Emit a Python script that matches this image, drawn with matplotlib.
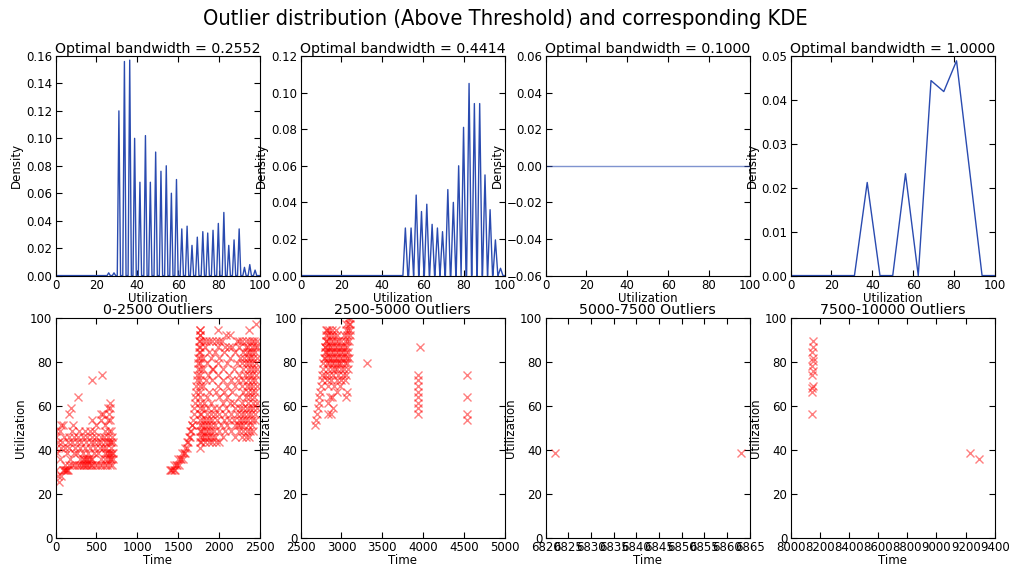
import numpy as np
import matplotlib
matplotlib.use('Agg')
import matplotlib.pyplot as plt

# ---- KDE panels (top row) ----
bandwidths = [0.2552, 0.4414, 0.1000, 1.0000]

# peaks of the narrow KDE spikes (x = utilization, y = density)
kde1_peak_x = [26.0, 28.6, 31.0, 33.7, 36.3, 38.7, 41.3, 44.0, 46.4, 49.0, 51.6, 54.2, 56.7, 59.2, 61.8,
               64.4, 66.8, 69.4, 72.1, 74.5, 77.1, 79.7, 82.4, 84.8, 87.4, 89.9, 92.5, 95.1, 97.7]
kde1_peak_y = [0.002, 0.002, 0.120, 0.156, 0.157, 0.100, 0.068, 0.102, 0.068, 0.090, 0.076, 0.080, 0.060,
               0.070, 0.034, 0.036, 0.022, 0.028, 0.032, 0.031, 0.033, 0.038, 0.046, 0.022, 0.026, 0.034,
               0.006, 0.008, 0.004]

kde2_peak_x = [51.3, 54.1, 56.6, 59.2, 61.8, 64.4, 67.0, 69.5, 72.1, 74.8, 77.4, 79.8, 82.5, 85.1, 87.7,
               90.3, 92.8, 95.4, 97.9]
kde2_peak_y = [0.026, 0.026, 0.044, 0.035, 0.039, 0.028, 0.026, 0.024, 0.047, 0.040, 0.060, 0.081, 0.105,
               0.094, 0.094, 0.055, 0.036, 0.0195, 0.004]

kde3_x = [0, 100]
kde3_y = [0.0, 0.0]

kde4_x = [0, 6.25, 12.5, 18.75, 25, 31.25, 37.5, 43.75, 50, 56.25, 62.5, 68.75, 75, 81.25, 87.5, 93.75, 100]
kde4_y = [0, 0, 0, 0, 0, 0, 0.0212, 0, 0, 0.0232, 0, 0.0444, 0.0419, 0.0489, 0.0245, 0, 0]

kde_ylims = [(0, 0.16), (0, 0.12), (-0.06, 0.06), (0, 0.05)]
kde_yticks = [np.arange(0, 0.161, 0.02), np.arange(0, 0.121, 0.02),
              np.arange(-0.06, 0.061, 0.02), np.arange(0, 0.051, 0.01)]

# ---- outlier scatter panels (bottom row) ----
titles = ['0-2500 Outliers', '2500-5000 Outliers', '5000-7500 Outliers', '7500-10000 Outliers']

# panel 1: utilization levels and the times at which each level shows an outlier
p1_levels = [25.6, 28.2, 30.8, 33.3, 35.9, 38.5, 41.0, 43.6, 46.2, 48.7, 51.3, 53.8, 56.4, 59.0, 61.5,
             64.1, 71.8, 74.4]
p1_times = [
    [40], [25, 70], [10, 90, 105, 115, 125, 135, 150],
    [120, 160, 200, 230, 260, 290, 310, 330, 350, 370, 390, 410, 430, 450, 480, 510, 540, 570, 600, 630, 660, 690],
    [50, 180, 300, 330, 350, 370, 390, 410, 430, 450, 550, 610, 640, 660, 680, 700],
    [20, 140, 220, 260, 330, 400, 470, 520, 600, 630, 650, 670, 690, 700],
    [0, 60, 110, 170, 240, 300, 360, 420, 480, 540, 580, 620, 680],
    [30, 80, 150, 200, 260, 310, 370, 430, 470, 520, 560, 600, 640, 660, 680, 700],
    [10, 100, 160, 230, 280, 340, 390, 440, 500, 550, 590, 640, 690],
    [0, 50, 200, 290, 360, 420, 470, 610, 650, 680],
    [70, 90, 210, 500, 600], [440, 560, 640, 660], [170, 560, 580, 650], [190, 640, 670],
    [660], [280], [450], [570],
]

p1b_levels = [30.8, 33.3, 35.9, 38.5, 41.0, 43.6, 46.2, 48.7, 51.3, 53.8, 56.4, 59.0, 61.5, 64.1, 66.7,
              69.2, 71.8, 74.4, 76.9, 79.5, 82.1, 84.6, 87.2, 89.7, 92.3, 94.9, 97.4]
p1b_times = [
    [1400, 1415, 1430, 1445, 1460],
    [1450, 1470, 1490, 1505],
    [1500, 1520, 1540, 1555],
    [1550, 1570, 1585],
    [1590, 1605, 1765],
    [1610, 1625, 1765, 1780, 1830, 1880, 1920, 1960, 2000],
    [1630, 1645, 1765, 1790, 1820, 1850, 1880, 1910, 1950, 2050, 2200, 2280, 2330, 2370],
    [1650, 1660, 1765, 1780, 1810, 1840, 1870, 1900, 1940, 2000, 2080, 2150, 2240, 2290, 2340, 2380, 2420],
    [1665, 1675, 1765, 1790, 1830, 1860, 1900, 1950, 2020, 2100, 2200, 2230, 2260, 2300, 2350, 2400],
    [1680, 1765, 1800, 1840, 1880, 1920, 1980, 2060, 2120, 2180, 2240, 2280, 2320, 2360, 2410, 2440],
    [1690, 1765, 1780, 1850, 1900, 1950, 2000, 2070, 2150, 2220, 2270, 2310, 2350, 2390, 2440],
    [1700, 1765, 1800, 1870, 1940, 2000, 2090, 2200, 2260, 2300, 2340, 2380, 2420, 2460],
    [1706, 1765, 1820, 1900, 2050, 2130, 2190, 2280, 2350, 2420, 2460],
    [1712, 1765, 1850, 2000, 2100, 2250, 2330, 2380, 2430],
    [1718, 1765, 1880, 1960, 2060, 2160, 2300, 2350, 2400, 2440],
    [1724, 1765, 1800, 1990, 2100, 2200, 2280, 2340, 2380, 2420, 2460],
    [1730, 1765, 1840, 1920, 2050, 2150, 2230, 2300, 2360, 2400, 2440],
    [1735, 1765, 1870, 1990, 2120, 2250, 2320, 2370, 2410, 2450],
    [1740, 1765, 1800, 1920, 1930, 2050, 2180, 2300, 2350, 2390, 2430, 2460],
    [1744, 1765, 1850, 1990, 2100, 2220, 2280, 2330, 2370, 2410, 2450],
    [1748, 1765, 1810, 1900, 2000, 2140, 2260, 2310, 2350, 2380, 2420, 2460],
    [1752, 1765, 1880, 1950, 2060, 2200, 2300, 2340, 2370, 2400, 2440],
    [1756, 1765, 1830, 1990, 2080, 2120, 2160, 2250, 2330, 2360, 2400, 2440, 2470],
    [1760, 1765, 1800, 1840, 1880, 1920, 1960, 2000, 2040, 2220, 2250, 2280, 2330, 2370, 2400, 2430, 2460],
    [1764, 1765, 2090, 2130],
    [1768, 1765, 1990, 2370],
    [2450],
]

# panel 2
p2_levels = [51.3, 53.8, 56.4, 59.0, 61.5, 64.1, 66.7, 69.2, 71.8, 74.4, 76.9, 79.5, 82.1, 84.6, 87.2,
             89.7, 92.3, 94.9, 97.4, 100.0]
p2_times = [
    [2680],
    [2690, 4532],
    [2700, 2840, 2870, 3941, 4532],
    [2710, 2900, 3941],
    [2720, 2830, 3941],
    [2730, 2860, 2880, 3050, 3941, 4532],
    [2740, 2950, 3070, 3941],
    [2748, 2840, 2910, 2980, 3941],
    [2756, 2820, 2870, 2940, 3000, 3040, 3941],
    [2764, 2800, 2850, 2900, 2960, 3020, 3060, 3941, 4532],
    [2772, 2830, 2880, 2920, 2950, 2990, 3030, 3080],
    [2780, 2820, 2850, 2880, 2910, 2940, 2970, 3000, 3040, 3070, 3310],
    [2788, 2800, 2830, 2860, 2890, 2920, 2950, 2980, 3010, 3040, 3070, 3090],
    [2795, 2810, 2840, 2870, 2900, 2930, 2960, 2990, 3020, 3050, 3080],
    [2802, 2800, 2830, 2860, 2890, 2920, 2950, 2980, 3010, 3040, 3070, 3966],
    [2808, 2810, 2840, 2870, 2900, 2930, 2960, 3000, 3040, 3070, 3090],
    [2814, 2830, 2870, 2910, 2950, 3030, 3070, 3100],
    [2820, 2810, 2850, 2890, 2930, 3050, 3080, 3110],
    [3060, 3090, 3110],
    [3080, 3100],
]

# panels 3 and 4
p3_time = [6822, 6863]
p3_util = [38.5, 38.5]
p4_time = [8150, 8155, 8148, 8152, 8150, 8148, 8150, 8146, 8150, 8145, 8145, 8143, 9230, 9293]
p4_util = [89.7, 87.2, 84.6, 82.1, 80.8, 78.5, 76.0, 74.4, 69.2, 68.5, 66.7, 56.4, 38.5, 35.9]

time_lims = [(0, 2500), (2500, 5000), (6820, 6865), (8000, 9400)]
time_steps = [500, 500, 5, 200]


def spike_line(peak_x, peak_y, half):
    xs, ys = [0], [0]
    for p, h in zip(peak_x, peak_y):
        xs += [p - half, p, p + half]
        ys += [0, h, 0]
    xs.append(100)
    ys.append(0)
    return xs, ys


def flatten(levels, times):
    tx, uy = [], []
    for lev, row in zip(levels, times):
        tx += row
        uy += [lev] * len(row)
    return tx, uy


plt.rcParams.update({
    'font.family': 'DejaVu Sans',
    'font.size': 8.5,
    'axes.titlesize': 10.2,
    'xtick.direction': 'in',
    'ytick.direction': 'in',
    'xtick.top': True,
    'ytick.right': True,
    'xtick.major.size': 4,
    'ytick.major.size': 4,
    'xtick.major.pad': 2.5,
    'ytick.major.pad': 2.5,
    'axes.linewidth': 0.8,
})

fig, axes = plt.subplots(2, 4, figsize=(10.11, 5.69), dpi=100)
fig.subplots_adjust(left=0.055, right=0.984, bottom=0.0545, top=0.9016, wspace=0.2, hspace=0.195)

blue = '#2a4bb0'
kde_lines = [spike_line(kde1_peak_x, kde1_peak_y, 0.8),
             spike_line(kde2_peak_x, kde2_peak_y + [0.004], 1.2),
             (kde3_x, kde3_y),
             (kde4_x, kde4_y)]

for i, ax in enumerate(axes[0]):
    xs, ys = kde_lines[i]
    # the flat line of panel 3 looks paler in the original
    ax.plot(xs, ys, color=blue, lw=1.0, alpha=0.6 if i == 2 else 1.0)
    ax.set_xlim(0, 100)
    ax.set_ylim(*kde_ylims[i])
    ax.set_xticks(range(0, 101, 20))
    ax.set_yticks(kde_yticks[i])
    ax.set_title('Optimal bandwidth = %.4f' % bandwidths[i], pad=2)
    ax.set_xlabel('Utilization', labelpad=0)
    ax.set_ylabel('Density', labelpad=2)

scatter_data = [flatten(p1_levels, p1_times), flatten(p2_levels, p2_times),
                (p3_time, p3_util), (p4_time, p4_util)]
extra_t, extra_u = flatten(p1b_levels, p1b_times)
scatter_data[0] = (scatter_data[0][0] + extra_t, scatter_data[0][1] + extra_u)

for i, ax in enumerate(axes[1]):
    t, u = scatter_data[i]
    ax.plot(t, u, 'x', color='red', alpha=0.5, ms=5.5, mew=1.0)
    lo, hi = time_lims[i]
    ax.set_xlim(lo, hi)
    ax.set_xticks(np.arange(lo, hi + 1, time_steps[i]))
    ax.set_ylim(0, 100)
    ax.set_yticks(range(0, 101, 20))
    ax.set_title(titles[i], pad=3.5)
    ax.set_xlabel('Time', labelpad=0)
    ax.set_ylabel('Utilization', labelpad=2)
    ax.ticklabel_format(axis='x', useOffset=False)

fig.suptitle('Outlier distribution (Above Threshold) and corresponding KDE',
             fontsize=15.7, fontstretch='condensed', y=0.985)

fig.savefig('out.png', dpi=100)
